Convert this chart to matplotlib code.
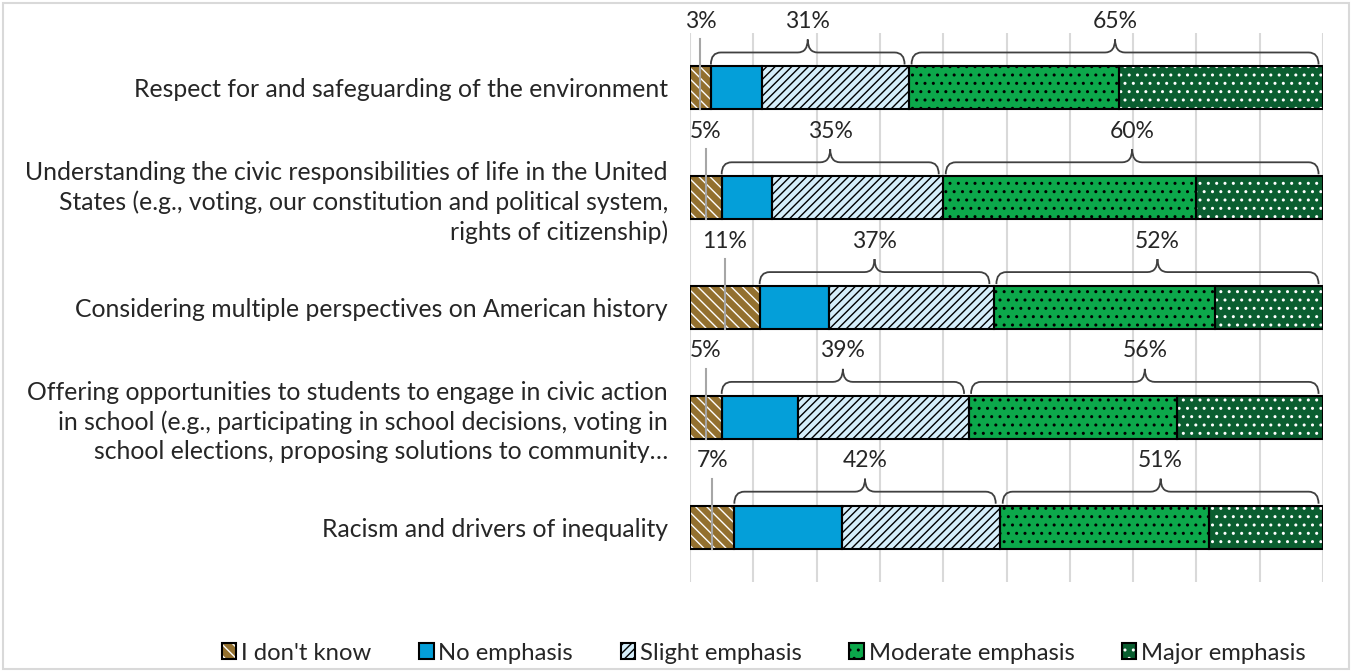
import matplotlib
matplotlib.use('Agg')
import matplotlib.pyplot as plt
from matplotlib.patches import Patch, PathPatch, Rectangle
from matplotlib.path import Path
from matplotlib.legend_handler import HandlerTuple

plt.rcParams['font.family'] = ['Lato', 'DejaVu Sans']
plt.rcParams['hatch.linewidth'] = 1.0

# Data (percent of respondents)
categories = [
    'Respect for and safeguarding of the environment',
    'Understanding the civic responsibilities of life in the United\n'
    'States (e.g., voting, our constitution and political system,\n'
    'rights of citizenship)',
    'Considering multiple perspectives on American history',
    'Offering opportunities to students to engage in civic action\n'
    'in school (e.g., participating in school decisions, voting in\n'
    'school elections, proposing solutions to community\u2026',
    'Racism and drivers of inequality',
]
series_names = ["I don't know", 'No emphasis', 'Slight emphasis',
                'Moderate emphasis', 'Major emphasis']
dont_know = [3.3, 5, 11, 5, 7]
no_emph = [8.1, 8, 11, 12, 17]
slight = [23.2, 27, 26, 27, 25]
moderate = [33.2, 40, 35, 33, 33]
major = [32.2, 20, 17, 23, 18]

series = [dont_know, no_emph, slight, moderate, major]
faces = ['#93702F', '#049FD9', '#D5EEFA', '#0CA84B', '#0A5E30']
hatch_cols = ['white', '#049FD9', 'black', 'black', 'white']
hatches = ['\\\\\\', None, '////', '..', '..']

txt_col = '#262626'
fs_lab = 17.8
fs_pct = 16.5
fs_leg = 17.2

W, H = 1353, 672
fig = plt.figure(figsize=(W / 100, H / 100), dpi=100)
ax_l, ax_r, ax_t, ax_b = 690, 1323, 33, 582
ax = fig.add_axes([ax_l / W, 1 - ax_b / H, (ax_r - ax_l) / W, (ax_b - ax_t) / H])

px_x = 100 / (ax_r - ax_l)
px_y = 5 / (ax_b - ax_t)

rows = list(range(len(categories)))
bh = 0.39
lefts = [0] * len(rows)
handles = []
for vals, fc, hc, ht, name in zip(series, faces, hatch_cols, hatches, series_names):
    ax.barh(rows, vals, left=lefts, height=bh, color=fc, edgecolor=hc,
            hatch=ht, linewidth=0, zorder=2)
    ax.barh(rows, vals, left=lefts, height=bh, fill=False,
            edgecolor='black', linewidth=1.5, zorder=3)
    lefts = [a + b for a, b in zip(lefts, vals)]
    handles.append((Patch(facecolor=fc, edgecolor=hc, hatch=ht, linewidth=0),
                    Patch(fill=False, edgecolor='black', linewidth=1.5)))


def brace(x0, x1, top):
    yA = top - 2 * px_y
    yH = top - 14 * px_y
    yT = top - 27 * px_y
    xm = (x0 + x1) / 2
    r = 10 * px_x
    t = 10 * px_x
    verts = [(x0, yA), (x0, yH), (x0 + r, yH),
             (xm - t, yH), (xm, yH), (xm, yT),
             (xm, yH), (xm + t, yH),
             (x1 - r, yH), (x1, yH), (x1, yA)]
    codes = [Path.MOVETO, Path.CURVE3, Path.CURVE3,
             Path.LINETO, Path.CURVE3, Path.CURVE3,
             Path.CURVE3, Path.CURVE3,
             Path.LINETO, Path.CURVE3, Path.CURVE3]
    ax.add_patch(PathPatch(Path(verts, codes), fill=False, edgecolor='#404040',
                           linewidth=1.3, clip_on=False, zorder=4))
    return xm


for i in rows:
    top = i - bh / 2
    lab_y = top - 45 * px_y
    # I don't know label with leader line
    xk = dont_know[i] / 2
    ax.plot([xk, xk], [top - 27 * px_y, i + bh / 2], color='#A6A6A6',
            linewidth=1.5, zorder=5, clip_on=False)
    ax.text(xk, lab_y, f'{round(dont_know[i])}%', ha='center', va='center',
            fontsize=fs_pct, color=txt_col)
    # low emphasis brace
    s1 = dont_know[i]
    e1 = s1 + no_emph[i] + slight[i]
    xm = brace(s1, e1 - 0.7, top)
    ax.text(xm, lab_y, f'{round(no_emph[i] + slight[i])}%', ha='center',
            va='center', fontsize=fs_pct, color=txt_col)
    # high emphasis brace
    e2 = e1 + moderate[i] + major[i]
    xm = brace(e1 + 0.4, e2 - 0.7, top)
    ax.text(xm, lab_y, f'{round(moderate[i] + major[i])}%', ha='center',
            va='center', fontsize=fs_pct, color=txt_col)

ax.set_xlim(0, 100)
ax.set_ylim(4.5, -0.5)
ax.set_xticks(range(0, 101, 10))
ax.set_xticklabels([])
ax.set_yticks(rows)
ax.set_yticklabels(categories, fontsize=fs_lab, color=txt_col, linespacing=1.32)
ax.tick_params(length=0, pad=16)
ax.grid(axis='x', color='#D9D9D9', linewidth=1.5, zorder=0)
ax.set_axisbelow(True)
for s in ax.spines.values():
    s.set_visible(False)

fig.legend(handles, series_names, handler_map={tuple: HandlerTuple(ndivide=1)},
           loc='center', bbox_to_anchor=(764 / W, 1 - 653 / H), ncol=5,
           frameon=False, fontsize=fs_leg, handlelength=0.6, handleheight=0.6,
           handletextpad=0.2, columnspacing=2.0, labelcolor=txt_col)

fig.patches.append(Rectangle((3 / W, 3 / H), 1 - 7 / W, 1 - 6 / H,
                             transform=fig.transFigure, fill=False,
                             edgecolor='#D9D9D9', linewidth=1.5))

fig.savefig('out.png', dpi=100)
